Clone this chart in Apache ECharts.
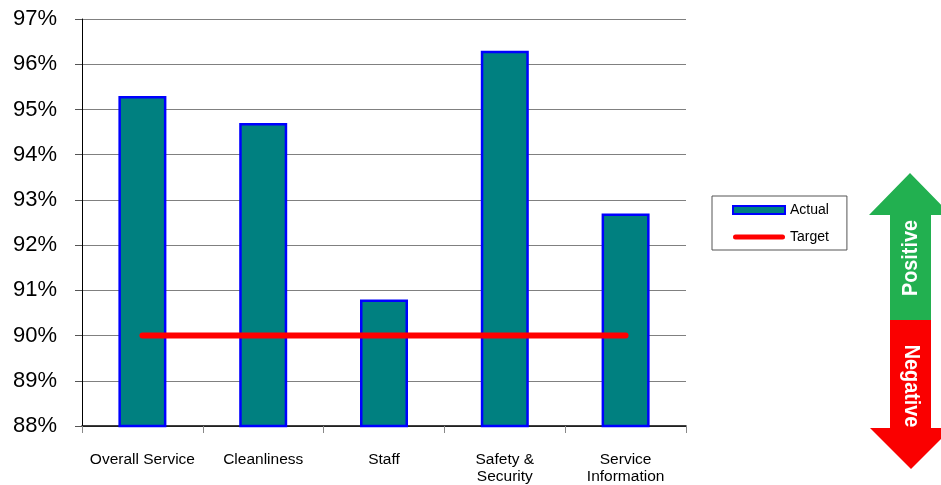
<!DOCTYPE html>
<html><head><meta charset="utf-8">
<script src="https://cdn.jsdelivr.net/npm/echarts@6/dist/echarts.min.js"></script>
<style>html,body{margin:0;padding:0;background:#fff}#c{width:941px;height:485px}</style>
</head><body><div id="c"></div>
<script>
const categories = ['Overall Service', 'Cleanliness', 'Staff', 'Safety &\nSecurity', 'Service\nInformation'];
const actual = [95.3, 94.7, 90.8, 96.3, 92.7];
const target = [90, 90, 90, 90, 90];
const yMin = 88, yMax = 97, yStep = 1;

const chart = echarts.init(document.getElementById('c'), null, {renderer: 'canvas'});
const F = 'Arial, "Liberation Sans", sans-serif';
chart.setOption({
  animation: false,
  grid: {left: 82, right: 255, top: 19, bottom: 57, containLabel: false},
  legend: {
    orient: 'vertical', left: 712, top: 196,
    padding: [7, 18, 6, 20], itemGap: 13, itemWidth: 52, itemHeight: 8,
    borderColor: '#555', borderWidth: 1,
    textStyle: {fontFamily: F, fontSize: 14, color: '#000'},
    data: [
      {name: 'Actual', icon: 'rect'},
      {name: 'Target', icon: 'path://M2.5,0 L49.5,0 A2.5,2.5 0 0 1 49.5,5 L2.5,5 A2.5,2.5 0 0 1 2.5,0 Z', itemStyle: {color: '#ff0000'}}
    ]
  },
  xAxis: {
    type: 'category', data: categories, boundaryGap: true,
    axisLine: {lineStyle: {color: '#000', width: 1.5}},
    axisTick: {show: true, length: 7, lineStyle: {color: '#888'}},
    axisLabel: {fontFamily: F, fontSize: 15.5, color: '#000', margin: 25, lineHeight: 17, interval: 0}
  },
  yAxis: {
    type: 'value', min: yMin, max: yMax, interval: yStep,
    axisLine: {show: true, lineStyle: {color: '#000', width: 1}},
    axisTick: {show: true, length: 7, lineStyle: {color: '#555'}},
    splitLine: {lineStyle: {color: '#808080', width: 1}},
    axisLabel: {fontFamily: F, fontSize: 22, color: '#000', margin: 25, formatter: '{value}%'}
  },
  series: [
    {
      name: 'Actual', type: 'bar', data: actual, barWidth: 48,
      itemStyle: {color: '#008080', borderColor: '#0000ff', borderWidth: 2.5}
    },
    {
      name: 'Target', type: 'line', data: target, symbol: 'none',
      lineStyle: {color: '#ff0000', width: 6, cap: 'round'}, itemStyle: {color: '#ff0000'}, z: 5
    }
  ],
  graphic: [
    {type: 'polygon', shape: {points: [[910,173],[951,215],[931,215],[931,320],[890,320],[890,215],[869,215]]}, style: {fill: '#22b050'}},
    {type: 'polygon', shape: {points: [[890,320],[931,320],[931,428],[952,428],[911,469],[870,428],[890,428]]}, style: {fill: '#fa0000'}},
    {type: 'text', x: 911, y: 258, rotation: Math.PI/2, scaleX: 0.9, style: {text: 'Positive', fill: '#fff', font: 'bold 22px Arial, "Liberation Sans", sans-serif', align: 'center', verticalAlign: 'middle'}},
    {type: 'text', x: 911, y: 386, rotation: -Math.PI/2, scaleX: 0.9, style: {text: 'Negative', fill: '#fff', font: 'bold 22px Arial, "Liberation Sans", sans-serif', align: 'center', verticalAlign: 'middle'}}
  ]
});
</script></body></html>
